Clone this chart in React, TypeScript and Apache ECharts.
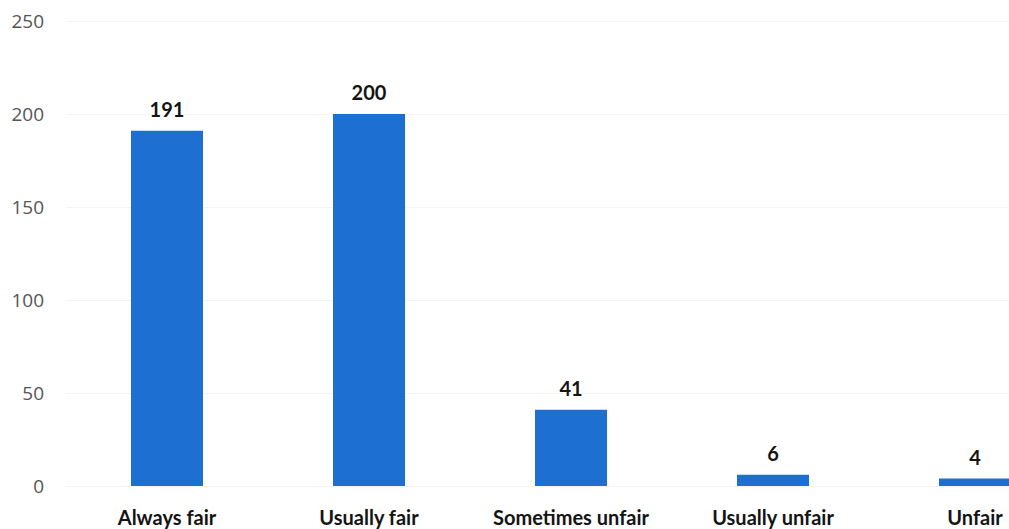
import React, { useEffect, useRef } from "react";
import * as echarts from "echarts";

const categories = ["Always fair", "Usually fair", "Sometimes unfair", "Usually unfair", "Unfair"];
const values = [191, 200, 41, 6, 4];
const yTicks = [0, 50, 100, 150, 200, 250];

export default function App() {
  const ref = useRef<HTMLDivElement>(null);
  useEffect(() => {
    if (!ref.current) return;
    const chart = echarts.init(ref.current, null, { renderer: "svg" });
    chart.setOption({
      animation: false,
      backgroundColor: "#ffffff",
      grid: { left: 66, top: 21, width: 1010, bottom: 43, containLabel: false },
      xAxis: {
        type: "category",
        data: categories,
        axisLine: { show: false },
        axisTick: { show: false },
        axisLabel: {
          interval: 0,
          margin: 21,
          color: "#141414",
          fontFamily: "Lato",
          fontWeight: "bold",
          fontSize: 20,
        },
      },
      yAxis: {
        type: "value",
        min: yTicks[0],
        max: yTicks[yTicks.length - 1],
        interval: 50,
        axisLine: { show: false },
        axisTick: { show: false },
        splitLine: { lineStyle: { color: "#f4f4f4", width: 1 } },
        axisLabel: {
          margin: 22,
          color: "#555555",
          fontFamily: "Open Sans",
          fontSize: 19,
        },
      },
      series: [
        {
          type: "bar",
          data: values,
          barWidth: 72,
          itemStyle: { color: "#1d6fd2" },
          label: {
            show: true,
            position: "top",
            distance: 12,
            color: "#141414",
            fontFamily: "Lato",
            fontWeight: "bold",
            fontSize: 20,
          },
        },
      ],
    });
    return () => chart.dispose();
  }, []);
  return (
    <div style={{ position: "absolute", left: 0, top: 0, width: 1009, height: 529, overflow: "hidden", background: "#fff" }}>
      <div ref={ref} style={{ width: 1100, height: 529 }} />
    </div>
  );
}
